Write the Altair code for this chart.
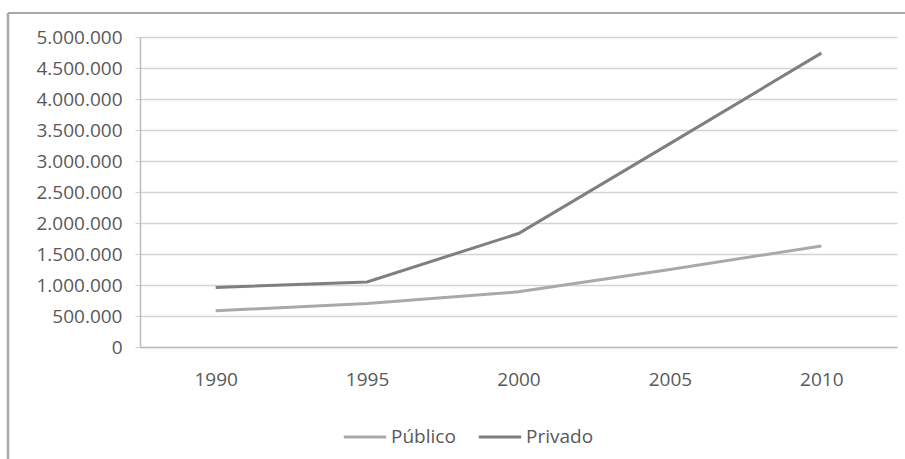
import altair as alt
import pandas as pd

# Matrículas por sector, 1990-2010
years = ["1990", "1995", "2000", "2005", "2010"]
publico = [585000, 700000, 890000, 1250000, 1630000]
privado = [960000, 1050000, 1830000, 3280000, 4740000]
series = ["Público", "Privado"]
colors = ["#a9a9a9", "#7f7f7f"]

rows = []
for name, values in zip(series, [publico, privado]):
    for y, v in zip(years, values):
        rows.append({"Año": y, "Serie": name, "Valor": v})
df = pd.DataFrame(rows)

FONT = "Open Sans"
TEXT = "#595959"

lines = alt.Chart(df).mark_line(strokeWidth=3, clip=False).encode(
    x=alt.X("Año:N", sort=years, title=None,
            scale=alt.Scale(paddingInner=0, paddingOuter=0.5),
            axis=alt.Axis(labelAngle=0, ticks=False, labelPadding=23,
                          domainColor="#bdbdbd", domainWidth=1.5, grid=False)),
    y=alt.Y("Valor:Q", title=None,
            scale=alt.Scale(domain=[0, 5000000], nice=False),
            axis=alt.Axis(values=list(range(0, 5000001, 500000)),
                          labelExpr="replace(format(datum.value, ',d'), /,/g, '.')",
                          tickSize=5, tickColor="#cfcfcf", labelPadding=13,
                          domainColor="#bdbdbd", domainWidth=1.5,
                          gridColor="#d3d3d3", gridWidth=1.5)),
    color=alt.Color("Serie:N", sort=series,
                    scale=alt.Scale(domain=series, range=colors),
                    legend=alt.Legend(title=None, orient="none", direction="horizontal",
                                      legendX=202, legendY=377,
                                      symbolType="stroke", symbolSize=1800,
                                      symbolStrokeWidth=3, labelOffset=3,
                                      columnPadding=16)),
    order=alt.Order("Año:N"),
)

# Chart border (left and top edges of the frame)
frame_left = alt.Chart().mark_rule(color="#a8a8a8", strokeWidth=2.5).encode(
    x=alt.value(-132), y=alt.value(-24), y2=alt.value(430))
frame_top = alt.Chart().mark_rule(color="#a8a8a8", strokeWidth=2).encode(
    x=alt.value(-132), x2=alt.value(780), y=alt.value(-24))

chart = alt.layer(lines, frame_left, frame_top).properties(
    width=757, height=310,
    padding={"left": 140, "top": 37, "right": 8, "bottom": 112},
    autosize=alt.AutoSizeParams(type="none"),
).configure(
    font=FONT,
).configure_view(
    stroke=None,
).configure_axis(
    labelFont=FONT, labelFontSize=19, labelColor=TEXT,
).configure_legend(
    labelFont=FONT, labelFontSize=19, labelColor=TEXT,
)

chart.save("out.html", embed_options={"renderer": "svg", "actions": False})
